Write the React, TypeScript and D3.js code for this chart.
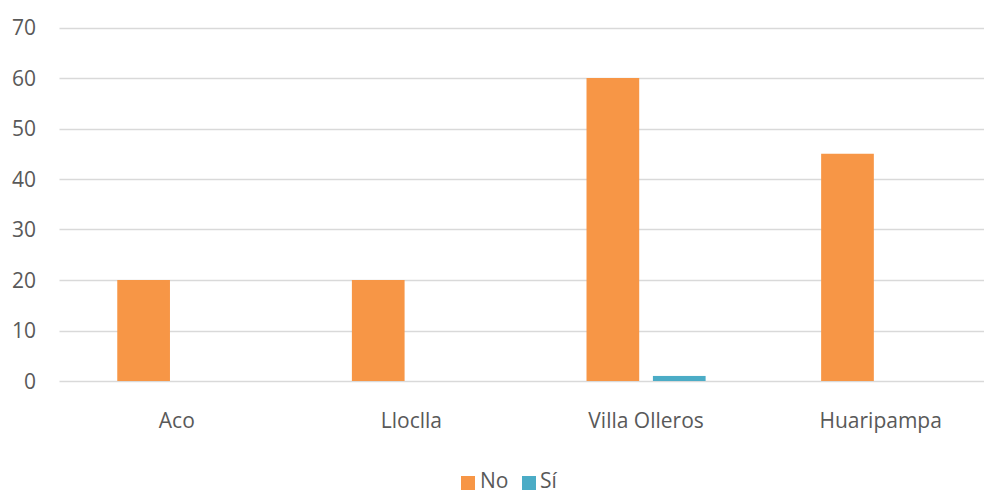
import React from "react";
import * as d3 from "d3";

const categories = ["Aco", "Lloclla", "Villa Olleros", "Huaripampa"];
const seriesNames = ["No", "Sí"];
const noValues = [20, 20, 60, 45];
const siValues = [0, 0, 1, 0];
const yTicks = [0, 10, 20, 30, 40, 50, 60, 70];
const colors = ["#f79646", "#4bacc6"];

export default function App() {
  const W = 984, H = 493;
  const x = d3.scaleBand<string>().domain(categories).range([59.5, 998]).paddingInner(0).paddingOuter(0);
  const y = d3.scaleLinear().domain([0, 70]).range([381, 27.5]);
  const step = x.step();
  const barW = 52.7;
  const gap = 13.7;
  const groupW = barW * 2 + gap;
  const series = [noValues, siValues];
  const font = "'Open Sans', sans-serif";
  return (
    <svg width={W} height={H} style={{ position: "absolute", left: 0, top: 0 }} fontFamily={font}>
      <rect width={W} height={H} fill="#fff" />
      {yTicks.map((t) => (
        <g key={t}>
          <line x1={59.5} x2={W} y1={Math.round(y(t)) + 0.5} y2={Math.round(y(t)) + 0.5} stroke="#d9d9d9" strokeWidth={1.3} />
          <text x={36} y={y(t)} dy="0.36em" textAnchor="end" fontSize={21} fill="#595959">{t}</text>
        </g>
      ))}
      {categories.map((c, i) => {
        const x0 = (x(c) as number) + (step - groupW) / 2;
        return (
          <g key={c}>
            {series.map((vals, s) => {
              const v = vals[i];
              if (v <= 0) return null;
              return (
                <rect key={s} x={x0 + s * (barW + gap)} y={y(v)} width={barW} height={y(0) - y(v)} fill={colors[s]} />
              );
            })}
            <text x={(x(c) as number) + step / 2} y={428} textAnchor="middle" fontSize={21} fill="#595959">{c}</text>
          </g>
        );
      })}
      <g>
        <rect x={461} y={476} width={14} height={14} fill={colors[0]} />
        <text x={480} y={488} fontSize={21} fill="#595959">{seriesNames[0]}</text>
        <rect x={522} y={476} width={14} height={14} fill={colors[1]} />
        <text x={540} y={488} fontSize={21} fill="#595959">{seriesNames[1]}</text>
      </g>
    </svg>
  );
}
